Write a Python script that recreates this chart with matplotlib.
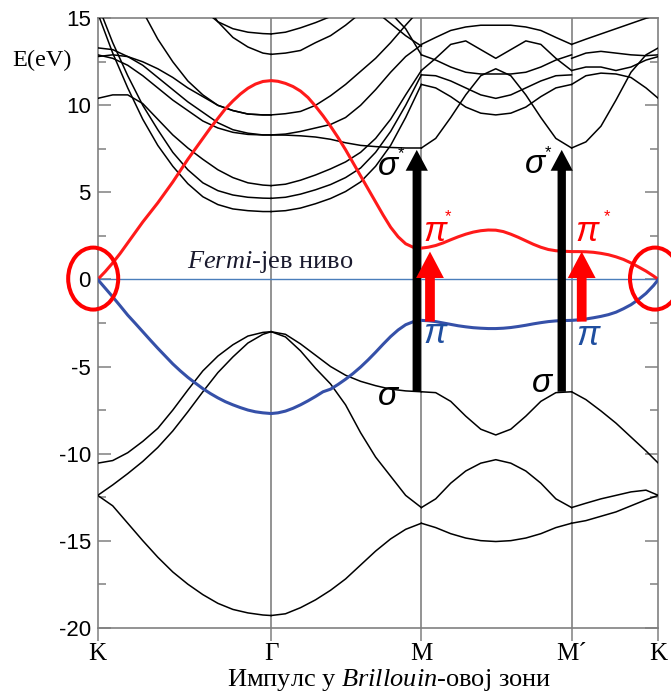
import matplotlib
matplotlib.use('Agg')
import matplotlib.pyplot as plt
from matplotlib.patches import Ellipse, FancyArrowPatch

plt.rcParams['mathtext.fontset'] = 'custom'
plt.rcParams['mathtext.it'] = 'Liberation Serif:italic'
plt.rcParams['mathtext.rm'] = 'Liberation Serif'

# symmetry points along the path K - Gamma - M - M' - K
sym_k = [0.0, 1.1547, 2.1547, 3.1547, 3.732]
sym_labels = ['K', '\u0393', 'M', 'M\u00b4', 'K']

# k grids for each segment (black bands)
k_KG = [0, 0.1, 0.2, 0.3, 0.4, 0.5, 0.6, 0.7, 0.8, 0.9, 1.0, 1.1, 1.1547]
k_GM = [1.1547, 1.25, 1.35, 1.45, 1.55, 1.65, 1.75, 1.85, 1.95, 2.05, 2.1547]
k_MM = [2.1547, 2.25, 2.35, 2.45, 2.55, 2.65, 2.75, 2.85, 2.95, 3.05, 3.1547]
k_MK = [3.1547, 3.25, 3.35, 3.45, 3.55, 3.65, 3.732]

# finer grid for the pi / pi* bands
k_pi = [0, 0.05, 0.1, 0.15, 0.2, 0.25, 0.3, 0.35, 0.4, 0.45, 0.5, 0.55, 0.6, 0.65, 0.7, 0.75,
        0.8, 0.85, 0.9, 0.95, 1.0, 1.05, 1.1, 1.1547,
        1.2, 1.25, 1.3, 1.35, 1.4, 1.45, 1.5, 1.55, 1.6, 1.65, 1.7, 1.75, 1.8, 1.85, 1.9, 1.95,
        2.0, 2.05, 2.1, 2.1547,
        2.2, 2.25, 2.3, 2.35, 2.4, 2.45, 2.5, 2.55, 2.6, 2.65, 2.7, 2.75, 2.8, 2.85, 2.9, 2.95,
        3.0, 3.05, 3.1, 3.1547,
        3.2, 3.25, 3.3, 3.35, 3.4, 3.45, 3.5, 3.55, 3.6, 3.65, 3.7, 3.732]

# pi* band (red)
pistar_E = [0, 0.45, 0.95, 1.5, 2.1, 2.7, 3.3, 3.85, 4.4, 5.0, 5.6, 6.25, 6.9, 7.5, 8.1, 8.7,
            9.25, 9.8, 10.25, 10.65, 10.98, 11.22, 11.37, 11.42,
            11.38, 11.26, 11.08, 10.82, 10.45, 9.95, 9.4, 8.8, 8.15, 7.45, 6.7, 5.95, 5.2, 4.45, 3.7, 3.0,
            2.45, 2.05, 1.85, 1.8,
            1.85, 1.95, 2.1, 2.28, 2.45, 2.6, 2.72, 2.8, 2.84, 2.83, 2.75, 2.6, 2.42, 2.22, 2.02, 1.85,
            1.72, 1.65, 1.62, 1.6,
            1.6, 1.59, 1.56, 1.5, 1.42, 1.3, 1.15, 0.95, 0.72, 0.48, 0.2, 0]

# pi band (blue)
pi_E = [0, -0.5, -1.0, -1.52, -2.05, -2.52, -3.0, -3.48, -3.95, -4.4, -4.85, -5.25, -5.62, -5.95, -6.27, -6.55,
        -6.8, -7.02, -7.2, -7.36, -7.5, -7.6, -7.66, -7.7,
        -7.66, -7.56, -7.4, -7.2, -6.97, -6.72, -6.45, -6.3, -6.03, -5.73, -5.4, -5.03, -4.62, -4.18, -3.72, -3.28,
        -2.9, -2.6, -2.43, -2.35,
        -2.37, -2.42, -2.5, -2.58, -2.66, -2.72, -2.77, -2.8, -2.82, -2.82, -2.8, -2.76, -2.7, -2.63, -2.55, -2.48,
        -2.42, -2.38, -2.36, -2.35,
        -2.32, -2.27, -2.2, -2.12, -2.02, -1.88, -1.68, -1.45, -1.15, -0.8, -0.35, 0]

# other bands (black), per segment
black_KG = [
    [-12.4, -13.0, -14.0, -15.0, -15.95, -16.8, -17.5, -18.1, -18.6, -18.95, -19.15, -19.27, -19.3],
    [-10.55, -10.4, -9.95, -9.3, -8.55, -7.5, -6.35, -5.25, -4.4, -3.75, -3.25, -3.04, -3.0],
    [-12.4, -11.8, -11.15, -10.45, -9.65, -8.7, -7.6, -6.45, -5.35, -4.45, -3.65, -3.15, -3.0],
    [15.3, 13.0, 11.0, 9.2, 7.7, 6.5, 5.5, 4.75, 4.3, 4.05, 3.95, 3.9, 3.9],
    [15.8, 13.6, 11.7, 10.0, 8.6, 7.3, 6.3, 5.55, 5.1, 4.85, 4.72, 4.67, 4.66],
    [10.4, 10.6, 10.6, 10.1, 9.2, 8.3, 7.55, 6.9, 6.3, 5.85, 5.55, 5.42, 5.39],
    [13.3, 13.2, 12.8, 12.3, 11.6, 10.9, 10.2, 9.6, 9.0, 8.6, 8.4, 8.3, 8.3],
    [12.9, 12.7, 12.3, 11.7, 11.0, 10.3, 9.7, 9.1, 8.7, 8.45, 8.33, 8.3, 8.3],
    [12.8, 12.9, 12.8, 12.5, 12.1, 11.6, 11.0, 10.5, 10.0, 9.7, 9.5, 9.45, 9.45],
    [22, 19.5, 17.3, 15.4, 13.8, 12.5, 11.4, 10.6, 10.0, 9.7, 9.5, 9.45, 9.45],
    [25, 24, 22.5, 21, 19.5, 18, 16.7, 15.5, 14.8, 14.4, 14.2, 14.12, 14.1],
    [24, 23, 22, 21, 20, 18.8, 17.5, 16.0, 14.8, 13.9, 13.35, 13.0, 12.93],
]
black_GM = [
    [-19.3, -19.2, -18.85, -18.4, -17.85, -17.2, -16.4, -15.6, -14.9, -14.35, -14.0],
    [-3.0, -3.15, -3.7, -4.35, -5.0, -5.5, -5.85, -6.1, -6.3, -6.4, -6.45],
    [-3.0, -3.3, -4.1, -5.1, -6.0, -7.2, -8.8, -10.2, -11.3, -12.4, -13.1],
    [8.3, 8.29, 8.25, 8.18, 8.05, 7.85, 7.7, 7.63, 7.58, 7.55, 7.55],
    [8.3, 8.35, 8.5, 8.7, 8.9, 9.3, 10.0, 10.9, 11.9, 12.8, 13.47],
    [9.45, 9.52, 9.65, 10.0, 10.55, 11.2, 11.95, 12.7, 13.6, 14.6, 15.6],
    [5.39, 5.47, 5.7, 6.0, 6.35, 6.75, 7.3, 8.1, 9.2, 10.6, 12.0],
    [4.66, 4.72, 4.9, 5.15, 5.45, 5.85, 6.4, 7.3, 8.5, 10.0, 11.75],
    [3.9, 3.95, 4.1, 4.35, 4.65, 5.05, 5.6, 6.5, 7.7, 9.3, 11.2],
    [12.93, 13.0, 13.15, 13.6, 14.0, 14.6, 15.3, 16, 16.6, 17, 17.2],
    [14.1, 14.2, 14.45, 14.75, 15.1, 15.6, 16.2, 16.8, 17.4, 17.7, 17.8],
    [21, 20, 19, 18, 17.3, 16.6, 16.0, 15.4, 14.7, 14.0, 13.4],
    [20, 19, 18, 17.3, 16.8, 16.3, 15.9, 15.6, 15.3, 14.4, 12.9],
]
black_MM = [
    [-14.0, -14.25, -14.6, -14.85, -15.0, -15.05, -15.0, -14.85, -14.6, -14.25, -14.0],
    [-6.45, -6.5, -7.0, -7.85, -8.6, -8.93, -8.6, -7.85, -7.0, -6.5, -6.45],
    [-13.1, -12.6, -11.7, -11.0, -10.55, -10.35, -10.55, -11.0, -11.7, -12.6, -13.1],
    [7.55, 8.1, 9.3, 10.6, 11.7, 12.1, 11.7, 10.6, 9.3, 8.1, 7.55],
    [11.2, 11.0, 10.5, 9.9, 9.55, 9.45, 9.55, 9.9, 10.5, 11.0, 11.2],
    [11.75, 11.7, 11.4, 11.0, 10.6, 10.4, 10.6, 11.0, 11.4, 11.7, 11.75],
    [12.0, 12.7, 13.5, 13.7, 13.2, 12.7, 13.2, 13.7, 13.5, 12.7, 12.0],
    [12.9, 12.6, 12.2, 11.9, 11.8, 11.8, 11.8, 11.9, 12.2, 12.6, 12.9],
    [13.5, 13.9, 14.3, 14.5, 14.6, 14.6, 14.6, 14.5, 14.3, 13.9, 13.5],
]
black_MK = [
    [-6.45, -6.9, -7.55, -8.25, -9.05, -9.85, -10.55],
    [-13.1, -12.85, -12.6, -12.4, -12.2, -12.1, -12.4],
    [-14.0, -13.85, -13.6, -13.35, -13.0, -12.65, -12.4],
    [7.55, 7.9, 8.8, 10.3, 11.9, 12.9, 13.3],
    [11.2, 11.7, 11.85, 11.8, 11.6, 11.0, 10.4],
    [12.0, 12.2, 12.2, 12.0, 12.2, 12.6, 12.8],
    [12.7, 13.0, 13.1, 13.0, 12.9, 12.85, 12.9],
    [13.5, 13.8, 14.1, 14.4, 14.7, 15.0, 15.2],
]

# transitions: (k position, start E, end E)
sigma_arrows = [(2.124, -6.45, 7.44), (3.089, -6.45, 7.44)]
pi_arrows = [(2.212, -2.42, 1.6), (3.222, -2.42, 1.6)]

fig = plt.figure(figsize=(6.71, 6.92), dpi=100)
ax = fig.add_axes([0.1456, 0.0929, 0.8355, 0.8807])

grey = '#808080'
for x in sym_k[1:4]:
    ax.axvline(x, color=grey, lw=1.2, zorder=1)
ax.axhline(0, color='#4a7ebb', lw=1.0, zorder=2)

for kk, bands in [(k_KG, black_KG), (k_GM, black_GM), (k_MM, black_MM), (k_MK, black_MK)]:
    for b in bands:
        ax.plot(kk, b, color='black', lw=1.1, zorder=3)

ax.plot(k_pi, pistar_E, color='#ff1a1a', lw=2.2, zorder=4)
ax.plot(k_pi, pi_E, color='#3550a8', lw=2.2, zorder=4)

for x, e0, e1 in sigma_arrows:
    ax.add_patch(FancyArrowPatch((x, e0), (x, e1), mutation_scale=1, shrinkA=0, shrinkB=0,
                                 arrowstyle='simple,head_length=15,head_width=16,tail_width=6',
                                 fc='black', ec='none', zorder=5))
for x, e0, e1 in pi_arrows:
    ax.add_patch(FancyArrowPatch((x, e0), (x, e1), mutation_scale=1, shrinkA=0, shrinkB=0,
                                 arrowstyle='simple,head_length=19,head_width=20,tail_width=7',
                                 fc='#ff0000', ec='none', zorder=5))

for cx in [-0.03, 3.71]:
    ax.add_patch(Ellipse((cx, 0.05), 0.333, 3.56, fill=False, ec='#ff0000', lw=2.9,
                         clip_on=False, zorder=6))

sig = dict(fontstyle='italic', family='Liberation Sans', fontsize=24, ha='center', va='center', zorder=7)
pil = dict(fontstyle='italic', family='Liberation Sans', fontsize=25, ha='center', va='center', zorder=7)
star = dict(family='Liberation Sans', fontsize=12, ha='center', va='center', zorder=7)
ax.text(1.933, 6.5, '\u03c3', color='black', **sig)
ax.text(2.02, 7.2, '*', color='black', **star)
ax.text(2.911, 6.6, '\u03c3', color='black', **sig)
ax.text(3.0, 7.3, '*', color='black', **star)
ax.text(1.933, -6.7, '\u03c3', color='black', **sig)
ax.text(2.958, -6.0, '\u03c3', color='black', **sig)
ax.text(2.246, 2.75, '\u03c0', color='#ff0000', **pil)
ax.text(2.335, 3.6, '*', color='#ff0000', **star)
ax.text(3.258, 2.75, '\u03c0', color='#ff0000', **pil)
ax.text(3.39, 3.6, '*', color='#ff0000', **star)
ax.text(2.246, -3.1, '\u03c0', color='#1f4e9f', **pil)
ax.text(3.264, -3.2, '\u03c0', color='#1f4e9f', **pil)

ax.text(1.148, 1.0, '$\\mathit{Fermi}$-јев ниво', family='Liberation Serif', fontsize=19,
        ha='center', va='center', color='#1a1a2e', zorder=7)

ax.set_xlim(0, 3.732)
ax.set_ylim(-20, 15)
for s in ax.spines.values():
    s.set_color(grey)
    s.set_linewidth(1.2)

ax.set_yticks([15, 10, 5, 0, -5, -10, -15, -20])
ax.set_yticklabels(['15', '10', '5', '0', '-5', '-10', '-15', '-20'], family='Liberation Sans')
ax.set_yticks([12.5, 7.5, 2.5, -2.5, -7.5, -12.5, -17.5], minor=True)
ax.tick_params(axis='y', which='major', direction='in', length=9.5, width=1.1, color=grey,
               left=True, right=True, labelsize=16, pad=5)
ax.tick_params(axis='y', which='minor', direction='in', length=5.5, width=1.1, color=grey,
               left=True, right=True)
ax.set_xticks(sym_k)
ax.set_xticklabels(sym_labels, family='Liberation Serif')
ax.tick_params(axis='x', direction='out', length=9, width=1.1, color=grey, labelsize=18, pad=2)

fig.text(12 / 671, 1 - 60 / 692, 'E(eV)', family='Liberation Serif', fontsize=17.5, ha='left', va='center')
fig.text(389 / 671, 1 - 680 / 692, 'Импулс у $\\mathit{Brillouin}$-овој зони', family='Liberation Serif',
         fontsize=19, ha='center', va='center')

fig.savefig('out.png', dpi=100)
